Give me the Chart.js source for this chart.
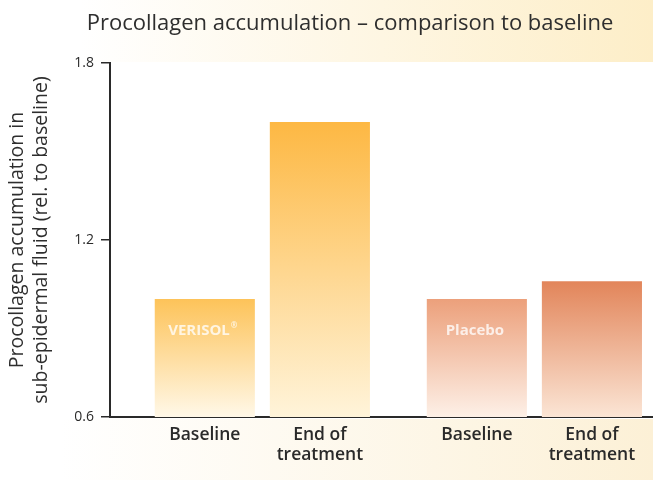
<!DOCTYPE html>
<html>
<head>
<meta charset="utf-8">
<script src="https://cdn.jsdelivr.net/npm/chart.js@4/dist/chart.umd.min.js"></script>
<style>
  html, body { margin: 0; padding: 0; background: #fff; }
  canvas { display: block; }
</style>
</head>
<body>
<canvas id="chart" width="653" height="480"></canvas>
<script>
// Procollagen accumulation, relative to baseline
const chartTitle = 'Procollagen accumulation \u2013 comparison to baseline';
const yTitleLines = ['Procollagen accumulation in', 'sub-epidermal fluid (rel. to baseline)'];
const groups = ['VERISOL\u00AE', 'Placebo'];
const timepoints = ['Baseline', ['End of', 'treatment']];
const baselineValues = [1.0, 1.0];
const endValues = [1.6, 1.06];
const yTicks = [0.6, 1.2, 1.8];

const FONT = '"Open Sans", "Noto Sans", sans-serif';
const INK = '#2a2a2a';

// top / bottom colours of each bar, per group then per timepoint
const barStops = [
  [['#FDC359', '#FFF8E8'], ['#FDB843', '#FFF4DA']],
  [['#ECA07B', '#FDF0E7'], ['#E2855A', '#FBE5D5']]
];

function barFill(ctx) {
  const stops = barStops[ctx.dataIndex] ? barStops[ctx.dataIndex][ctx.datasetIndex] : null;
  if (!stops) return '#FDB947';
  const chart = ctx.chart;
  if (!chart.chartArea || !ctx.parsed) return stops[0];
  const y = chart.scales.y;
  const top = y.getPixelForValue(ctx.parsed.y);
  const bottom = y.getPixelForValue(y.min);
  const g = chart.ctx.createLinearGradient(0, top, 0, bottom);
  g.addColorStop(0, stops[0]);
  g.addColorStop(1, stops[1]);
  return g;
}

// draws a name centred on x, with a trailing ® set small and raised
function drawName(c, text, x, y, size) {
  const mark = '\u00AE';
  const main = text.endsWith(mark) ? text.slice(0, -1) : text;
  c.font = 'bold ' + size + 'px ' + FONT;
  const wMain = c.measureText(main).width;
  let wMark = 0;
  const small = Math.round(size * 0.55);
  if (main !== text) {
    c.font = 'bold ' + small + 'px ' + FONT;
    wMark = c.measureText(mark).width + 1;
  }
  const left = x - (wMain + wMark) / 2;
  c.textAlign = 'left';
  c.font = 'bold ' + size + 'px ' + FONT;
  c.fillText(main, left, y);
  if (wMark) {
    c.font = 'bold ' + small + 'px ' + FONT;
    c.fillText(mark, left + wMain + 1, y - size * 0.35);
  }
}

const decor = {
  id: 'decor',
  beforeDraw(chart) {
    const c = chart.ctx;
    const w = chart.width, h = chart.height;
    c.save();
    c.fillStyle = '#ffffff';
    c.fillRect(0, 0, w, h);
    // warm band behind the heading
    let g = c.createLinearGradient(80, 0, w, 0);
    g.addColorStop(0, 'rgba(253,238,200,0)');
    g.addColorStop(1, 'rgba(253,238,200,1)');
    c.fillStyle = g;
    c.fillRect(0, 0, w, 62);
    // warm band below the axis
    g = c.createLinearGradient(60, 0, w, 0);
    g.addColorStop(0, 'rgba(252,242,218,0)');
    g.addColorStop(1, 'rgba(252,240,214,1)');
    c.fillStyle = g;
    c.fillRect(0, chart.chartArea.bottom + 2, w, h);
    c.restore();
  },
  afterDatasetsDraw(chart) {
    const c = chart.ctx;
    c.save();
    // group names inside the baseline bars
    const base = chart.getDatasetMeta(0).data;
    c.fillStyle = 'rgba(255,255,255,0.78)';
    c.textBaseline = 'middle';
    base.forEach((el, i) => {
      drawName(c, groups[i], el.x - 2, el.y + 32, 15);
    });
    // timepoint labels below each bar
    c.fillStyle = INK;
    c.font = '600 17.5px ' + FONT;
    c.textAlign = 'center';
    c.textBaseline = 'alphabetic';
    chart.data.datasets.forEach((ds, di) => {
      const lines = [].concat(timepoints[di]);
      chart.getDatasetMeta(di).data.forEach(el => {
        lines.forEach((t, li) => {
          c.fillText(t, el.x, chart.chartArea.bottom + 23 + li * 20);
        });
      });
    });
    c.restore();
  },
  afterDraw(chart) {
    const c = chart.ctx;
    c.save();
    c.font = '500 22px ' + FONT;
    c.fillStyle = '#2e2e2e';
    c.textAlign = 'center';
    c.textBaseline = 'middle';
    c.fillText(chartTitle, 350, 24);
    c.restore();
  }
};

new Chart(document.getElementById('chart'), {
  type: 'bar',
  data: {
    datasets: [
      {
        label: 'Baseline',
        data: groups.map((g, i) => ({ x: i + 1, y: baselineValues[i] })),
        backgroundColor: barFill
      },
      {
        label: 'End of treatment',
        data: groups.map((g, i) => ({ x: i + 1, y: endValues[i] })),
        backgroundColor: barFill
      }
    ]
  },
  options: {
    responsive: false,
    animation: false,
    categoryPercentage: 0.846,
    barPercentage: 0.87,
    layout: { padding: { top: 63, right: 0, bottom: 0, left: 0 } },
    plugins: {
      legend: { display: false },
      tooltip: { enabled: false },
      title: { display: false }
    },
    scales: {
      x: {
        type: 'linear',
        offset: false,
        min: 0.44,
        max: 2.436,
        afterBuildTicks: s => { s.ticks = groups.map((g, i) => ({ value: i + 1 })); },
        afterFit: s => { s.height = 63; },
        ticks: { display: false },
        grid: { display: false },
        border: { display: true, color: INK, width: 2 }
      },
      y: {
        min: 0.6,
        max: 1.8,
        afterBuildTicks: s => { s.ticks = yTicks.map(v => ({ value: v })); },
        afterFit: s => { s.width = 110; },
        ticks: {
          color: INK,
          padding: 7,
          font: { family: FONT, size: 14, weight: '500' },
          callback: v => Number(v).toFixed(1)
        },
        grid: { drawOnChartArea: false, drawTicks: true, tickLength: 9, color: INK, lineWidth: 1.5 },
        border: { display: true, color: INK, width: 2 },
        title: {
          display: true,
          text: yTitleLines,
          color: '#2e2e2e',
          font: { family: FONT, size: 19.5, weight: '500', lineHeight: 1.22 },
          padding: { top: 6, bottom: 0 }
        }
      }
    }
  },
  plugins: [decor]
});
</script>
</body>
</html>
